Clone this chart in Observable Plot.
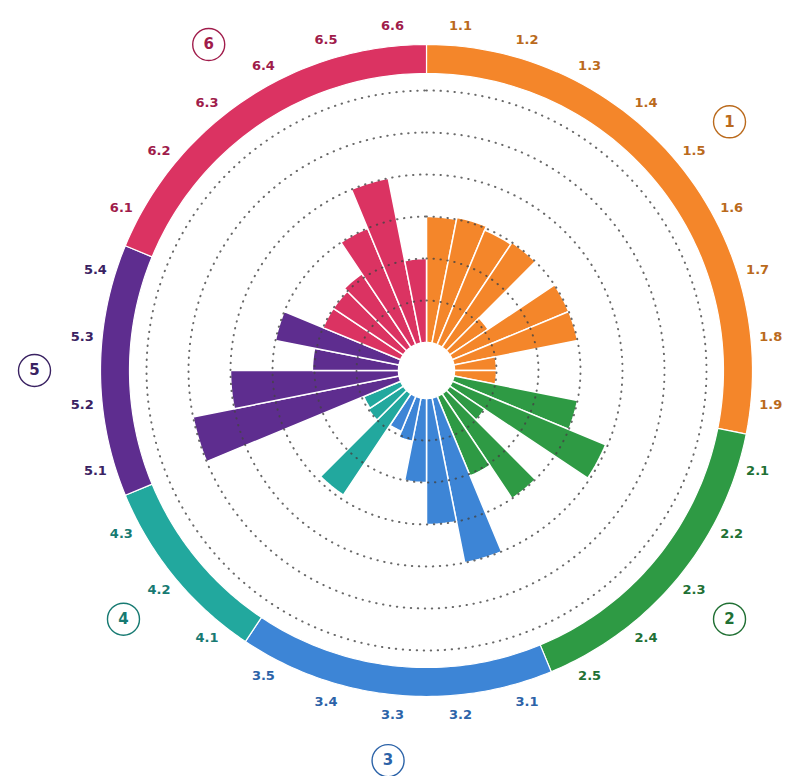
<!DOCTYPE html>
<html><head><meta charset="utf-8">
<script src="https://cdn.jsdelivr.net/npm/d3@7"></script>
<script src="https://cdn.jsdelivr.net/npm/@observablehq/plot@0.6"></script>
<style>body{margin:0;background:#fff;}</style>
</head><body><div id="chart"></div>
<script>
// ---- data ----
const groups = ["1", "2", "3", "4", "5", "6"];
const categories = [
  "1.1","1.2","1.3","1.4","1.5","1.6","1.7","1.8","1.9",
  "2.1","2.2","2.3","2.4","2.5",
  "3.1","3.2","3.3","3.4","3.5",
  "4.1","4.2","4.3",
  "5.1","5.2","5.3","5.4",
  "6.1","6.2","6.3","6.4","6.5","6.6"
];
const values = [
  3.0, 3.05, 2.95, 3.0, 1.1, 3.0, 3.0, 1.0, 1.0,
  3.0, 3.95, 1.0, 3.0, 2.05,
  4.0, 3.0, 2.0, 1.05, 0.9,
  2.9, 1.0, 0.95,
  5.0, 4.0, 2.05, 3.0,
  2.0, 2.0, 2.1, 3.0, 4.0, 2.0
];
const gridValues = [1, 2, 3, 4, 5, 6];
const groupColors = ["#F4862A", "#2E9A44", "#3D85D6", "#22A89E", "#5E2D8F", "#DB3362"];
const labelColors = ["#BA6A1C", "#217034", "#2C63A8", "#177A72", "#3A2262", "#A01C4B"];

// ---- geometry helpers ----
const n = categories.length;
const angle = d3.scaleLinear().domain([0, n]).range([0, 2 * Math.PI]);
const radius = d3.scaleLinear().domain([0, 1]).range([28, 70]);
const ringInner = 297, ringOuter = 326, labelR = 346, badgeR = 392;
const gIndex = c => groups.indexOf(c.split(".")[0]);

function wedge(a0, a1, r0, r1, steps) {
  const pts = [];
  for (let k = 0; k <= steps; k++) { const a = a0 + (a1 - a0) * k / steps; pts.push([r1 * Math.sin(a), r1 * Math.cos(a)]); }
  for (let k = steps; k >= 0; k--) { const a = a0 + (a1 - a0) * k / steps; pts.push([r0 * Math.sin(a), r0 * Math.cos(a)]); }
  return pts;
}

const barPts = [];
categories.forEach((c, i) => {
  const col = groupColors[gIndex(c)];
  wedge(angle(i), angle(i + 1), radius(0), radius(values[i]), 8)
    .forEach(([x, y]) => barPts.push({id: c, x, y, color: col}));
});

const ringPts = [];
groups.forEach((g, gi) => {
  const idx = categories.map((c, i) => [c, i]).filter(([c]) => gIndex(c) === gi).map(d => d[1]);
  const i0 = d3.min(idx), i1 = d3.max(idx) + 1;
  wedge(angle(i0), angle(i1), ringInner, ringOuter, 60)
    .forEach(([x, y]) => ringPts.push({id: g, x, y, color: groupColors[gi]}));
});

const gridPts = [];
gridValues.forEach(v => {
  for (let k = 0; k < 240; k++) {
    const a = 2 * Math.PI * k / 240;
    gridPts.push({v, x: radius(v) * Math.sin(a), y: radius(v) * Math.cos(a)});
  }
});

const labels = categories.map((c, i) => {
  const a = angle(i + 0.5);
  return {text: c, x: labelR * Math.sin(a), y: labelR * Math.cos(a), color: labelColors[gIndex(c)]};
});

const badges = groups.map((g, gi) => {
  const idx = categories.map((c, i) => [c, i]).filter(([c]) => gIndex(c) === gi).map(d => d[1]);
  const a = angle((d3.min(idx) + d3.max(idx) + 1) / 2);
  return {text: g, x: badgeR * Math.sin(a), y: badgeR * Math.cos(a), color: labelColors[gi]};
});

const chart = Plot.plot({
  width: 786,
  height: 776,
  margin: 0,
  style: {fontFamily: "DejaVu Sans", background: "white"},
  x: {domain: [-426, 360], axis: null},
  y: {domain: [-406, 370], axis: null},
  color: {type: "identity"},
  marks: [
    Plot.line(barPts, {x: "x", y: "y", z: "id", fill: "color", stroke: "white", strokeWidth: 1.5, curve: "linear-closed"}),
    Plot.line(gridPts, {x: "x", y: "y", z: "v", stroke: "#444", strokeWidth: 2, strokeOpacity: 0.8,
      strokeDasharray: "0.4,6.6", strokeLinecap: "round", curve: "linear-closed"}),
    Plot.line(ringPts, {x: "x", y: "y", z: "id", fill: "color", stroke: "white", strokeWidth: 1.2, curve: "linear-closed"}),
    Plot.text(labels, {x: "x", y: "y", text: "text", fill: "color", fontSize: 13, fontWeight: "bold"}),
    Plot.dot(badges, {x: "x", y: "y", r: 16, fill: "white", stroke: "color", strokeWidth: 1.4}),
    Plot.text(badges, {x: "x", y: "y", text: "text", fill: "color", fontSize: 15, fontWeight: "bold"})
  ]
});
document.getElementById("chart").appendChild(chart);
</script>
</body></html>
